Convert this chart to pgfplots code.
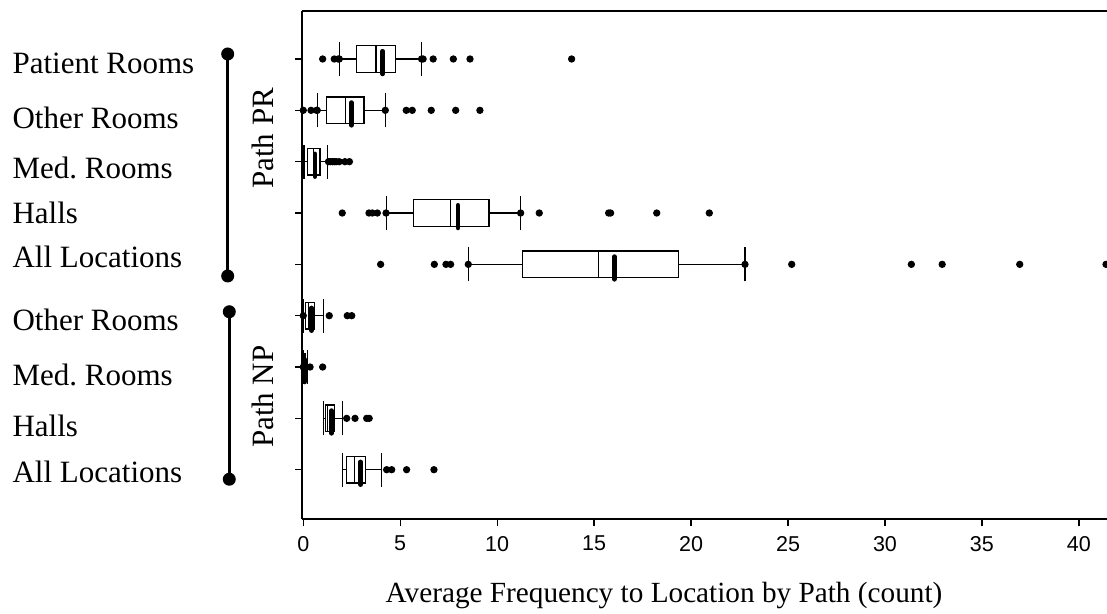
\documentclass[border=0pt]{standalone}
\usepackage{fontspec}
\setmainfont{Liberation Serif}
\newfontfamily\arial{Liberation Sans}
\usepackage{pgfplots}
\pgfplotsset{compat=1.18}
\usepgfplotslibrary{statistics}

\newcommand{\bx}[6]{%
  \addplot[black, line width=0.45pt, solid,
    boxplot prepared={draw position=#1, lower whisker=#2, lower quartile=#3,
      median=#4, upper quartile=#5, upper whisker=#6,
      box extend=0.52, whisker extend=0.66}] coordinates {};}
\newcommand{\mn}[2]{%
  \addplot[black, line width=1.9pt, line cap=round] coordinates {(#2,#1-0.29) (#2,#1+0.15)};}

\begin{document}
\frenchspacing
\begin{tikzpicture}
\useasboundingbox (-120.92pt,-38pt) rectangle (321.88pt,207.6pt);
\begin{axis}[
  at={(0pt,0pt)}, anchor=south west,
  scale only axis, width=321.88pt, height=203.2pt,
  xmin=-0.05, xmax=41.45, ymin=0.04, ymax=9.935,
  axis x line*=box, axis y line*=left,
  axis line style={line width=0.8pt},
  xtick={0,5,...,40}, ytick={1,...,9}, yticklabels={},
  xtick pos=left, ytick pos=left, tick align=outside,
  major tick length=2.8pt,
  tick style={line width=0.5pt, black},
  /pgf/number format/assume math mode=true,
  xticklabel style={font=\arial\fontsize{8.6pt}{10pt}\selectfont, yshift=-0.5pt},
  clip=true,
]
% Path PR
\bx{9}{1.86}{2.75}{3.75}{4.76}{6.12}
\bx{8}{0.72}{1.22}{2.17}{3.13}{4.23}
\bx{7}{0.04}{0.23}{0.52}{0.86}{1.26}
\bx{6}{4.27}{5.67}{7.60}{9.58}{11.21}
\bx{5}{8.51}{11.30}{15.21}{19.34}{22.78}
% Path NP
\bx{4}{0.00}{0.12}{0.26}{0.60}{1.03}
\bx{3}{0.00}{0.00}{0.05}{0.12}{0.20}
\bx{2}{1.03}{1.15}{1.26}{1.63}{2.03}
\bx{1}{2.03}{2.24}{2.63}{3.20}{4.04}
% means
\mn{9}{4.09}
\mn{8}{2.48}
\mn{7}{0.60}
\mn{6}{7.98}
\mn{5}{16.04}
\mn{4}{0.43}
\mn{3}{0.07}
\mn{2}{1.46}
\mn{1}{2.96}
% outliers / extreme points
\addplot[only marks, mark=*, mark size=1.25pt, black] coordinates {
 (1.00,9) (1.60,9) (1.80,9) (1.86,9) (6.10,9) (6.18,9) (6.70,9) (7.74,9) (8.60,9) (13.84,9)
 (0.00,8) (0.40,8) (0.69,8) (0.72,8) (4.23,8) (5.31,8) (5.62,8) (6.60,8) (7.86,8) (9.11,8)
 (1.30,7) (1.40,7) (1.50,7) (1.60,7) (1.70,7) (1.85,7) (2.15,7) (2.38,7)
 (2.01,6) (3.39,6) (3.56,6) (3.82,6) (4.27,6) (11.21,6) (12.17,6) (15.75,6) (15.85,6) (18.23,6) (20.94,6)
 (3.99,5) (6.76,5) (7.36,5) (7.60,5) (8.51,5) (22.78,5) (25.19,5) (31.36,5) (32.95,5) (36.95,5) (41.40,5)
 (0.00,4) (1.34,4) (2.27,4) (2.50,4)
 (0.00,3) (0.35,3) (1.00,3)
 (2.24,2) (2.67,2) (3.27,2) (3.40,2)
 (4.30,1) (4.56,1) (5.33,1) (6.74,1)
};
\end{axis}
% group labels
\begin{scope}[font=\fontsize{12.4pt}{14pt}\selectfont]
\node[anchor=base west, inner sep=0pt] at (-116.1pt,178pt) {Patient Rooms};
\node[anchor=base west, inner sep=0pt] at (-116.1pt,156.2pt) {Other Rooms};
\node[anchor=base west, inner sep=0pt] at (-116.1pt,136pt) {Med. Rooms};
\node[anchor=base west, inner sep=0pt] at (-116.1pt,118pt) {Halls};
\node[anchor=base west, inner sep=0pt] at (-116.1pt,100.4pt) {All Locations};
\node[anchor=base west, inner sep=0pt] at (-116.1pt,75.2pt) {Other Rooms};
\node[anchor=base west, inner sep=0pt] at (-116.1pt,53.2pt) {Med. Rooms};
\node[anchor=base west, inner sep=0pt] at (-116.1pt,32.8pt) {Halls};
\node[anchor=base west, inner sep=0pt] at (-116.1pt,14.4pt) {All Locations};
\node[rotate=90, inner sep=0pt] at (-15.6pt,152.3pt) {Path PR};
\node[rotate=90, inner sep=0pt] at (-15.6pt,48.9pt) {Path NP};
\node[inner sep=0pt, font=\fontsize{11.7pt}{14pt}\selectfont] at (144.7pt,-30.8pt) {Average Frequency to Location by Path (count)};
\end{scope}
% brackets
\draw[line width=1.2pt] (-29.84pt,186pt) -- (-29.84pt,97.2pt);
\fill (-29.84pt,186pt) circle (2.6pt);
\fill (-29.84pt,97.2pt) circle (2.6pt);
\draw[line width=1.2pt] (-29.2pt,82.9pt) -- (-29.2pt,15.9pt);
\fill (-29.2pt,82.9pt) circle (2.6pt);
\fill (-29.2pt,15.9pt) circle (2.6pt);
\end{tikzpicture}
\end{document}
